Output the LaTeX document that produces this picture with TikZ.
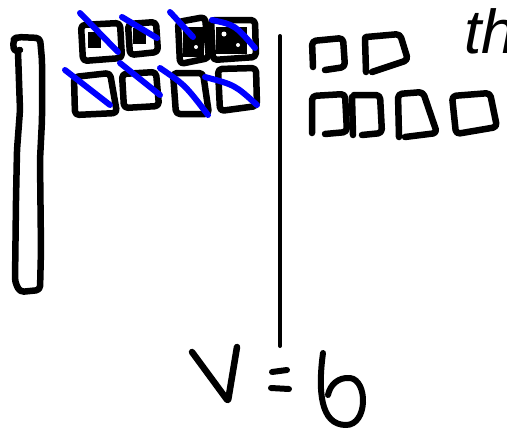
\documentclass[tikz,border=0pt]{standalone}
\usepackage{fontspec}
\setsansfont{Liberation Sans}
\begin{document}
\begin{tikzpicture}[x=1pt,y=-1pt,
  ink/.style={draw=black,line width=6.5pt,line cap=round,line join=round,rounded corners=4pt},
  thin/.style={draw=black,line width=4pt,line cap=round,line join=round},
  cross/.style={draw=blue,line width=6pt,line cap=round}]
\useasboundingbox (0,0) rectangle (507,432);
\clip (0,0) rectangle (507,432);
% tall left bar
\draw[ink] (20,50) -- (14,52) -- (13,40) -- (17,37) -- (40,38) -- (42,60) -- (42,120) -- (40,160) -- (41,250) -- (40,290) -- (20,292) -- (15,282) -- (16,200) -- (17,150) -- (20,110) -- (18,52);
% scribbles inside top row
\fill (88,32) rectangle (101,48);
\fill (133,28) rectangle (146,44);
\fill (183,27) rectangle (204,57);
\fill (216,27) rectangle (247,54);
\fill[white] (190,33) circle (2.5);
\fill[white] (196,47) circle (2);
\fill[white] (224,34) circle (2.5);
\fill[white] (238,45) circle (2);
% crossed squares, top row
\draw[ink] (81,25) -- (120,23) -- (122,58) -- (83,61) -- cycle;
\draw[ink] (128,24) -- (156,22) -- (158,52) -- (130,55) -- cycle;
\draw[ink] (178,22) -- (205,17) -- (209,58) -- (180,64) -- cycle;
\draw[ink] (211,20) -- (255,20) -- (256,57) -- (213,60) -- cycle;
% crossed squares, bottom row
\draw[ink] (74,77) -- (110,73) -- (117,113) -- (75,115) -- cycle;
\draw[ink] (122,74) -- (156,72) -- (159,106) -- (124,108) -- cycle;
\draw[ink] (173,73) -- (203,73) -- (209,114) -- (176,114) -- cycle;
\draw[ink] (218,69) -- (256,68) -- (257,106) -- (220,111) -- cycle;
% blue strikes
\draw[cross] (80,13) -- (118,52);
\draw[cross] (122,17) -- (157,38);
\draw[cross] (170,12) -- (193,37);
\draw[cross] (212,20) .. controls (235,25) .. (255,48);
\draw[cross] (65,70) -- (110,105);
\draw[cross] (120,63) -- (160,95);
\draw[cross] (160,68) .. controls (185,85) .. (208,115);
\draw[cross] (205,77) .. controls (235,85) .. (257,105);
% divider
\draw[thin] (280,36) -- (280,346);
% right side shapes, top row
\draw[ink] (313,67) -- (312,41) -- (343,38) -- (345,67) -- (325,70);
\draw[ink] (365,38) -- (366,72);
\draw[ink] (366,37) -- (400,34) -- (408,60) -- (372,72);
% right side shapes, bottom row
\draw[ink] (312,133) -- (312,96) -- (345,94) -- (347,132) -- (325,134);
\draw[ink] (352,97) -- (353,135);
\draw[ink] (354,95) -- (380,95) -- (382,133) -- (362,135);
\draw[ink] (399,137) -- (398,94) -- (423,92) -- (437,133) -- (405,137);
\draw[ink] (452,96) -- (490,93) -- (497,127) -- (456,134) -- cycle;
% handwritten text
\node[anchor=base west,inner sep=0pt,font=\sffamily\itshape\fontsize{62}{62}\selectfont] (th) at (464,53) {th};
% V = 6
\draw[ink,rounded corners=2pt] (192,352) -- (228,401) -- (237,347);
\draw[thin,line width=6pt] (272,372) -- (287,370);
\draw[thin,line width=6pt] (271,388) -- (289,389);
\draw[thin,line width=6pt] (323,353) .. controls (318,390) and (320,425) .. (346,425)
  .. controls (368,425) and (368,380) .. (350,378)
  .. controls (338,377) and (330,385) .. (328,395);
\end{tikzpicture}
\end{document}
